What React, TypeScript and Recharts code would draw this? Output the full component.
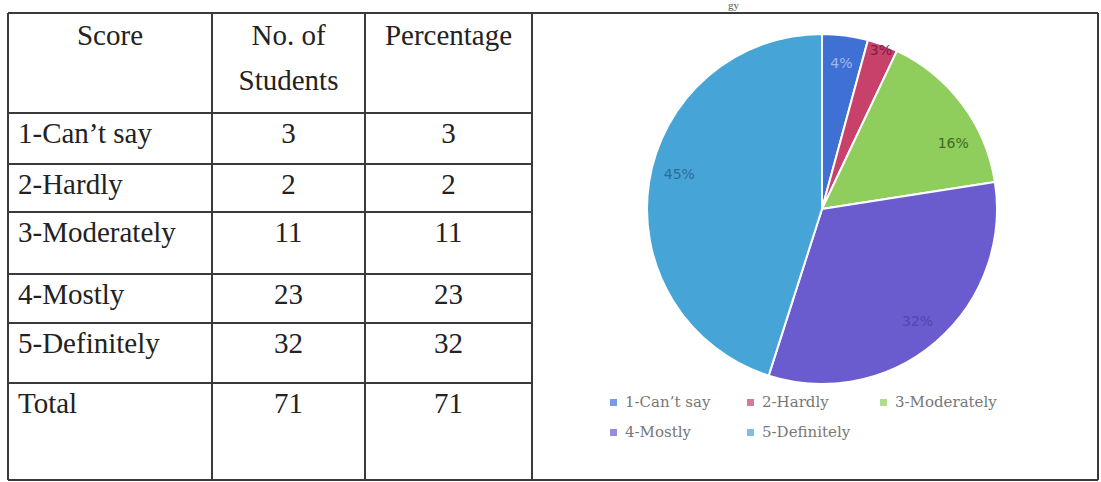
import React from 'react';
import { PieChart, Pie, Cell, Legend } from 'recharts';

const scores = ["1-Can\u2019t say", '2-Hardly', '3-Moderately', '4-Mostly', '5-Definitely'];
const students = [3, 2, 11, 23, 32];
const percentages = [3, 2, 11, 23, 32];
const totalStudents = 71;
const totalPercentage = 71;
const pieLabels = ['4%', '3%', '16%', '32%', '45%'];

const COLORS = ['#3f70d4', '#c8416b', '#8fcd5c', '#6a5bcf', '#46a4d6'];
const LABEL_COLORS = ['#9fb8ec', '#7a2040', '#3f6a1e', '#5346b0', '#2b6c96'];

// table grid lines (scan positions)
const ROW_Y = [13, 113, 164, 212, 274, 323, 383, 480];
const COL_X = [8, 212, 365, 532, 1098];

const serif = '"Liberation Serif", "Times New Roman", serif';
const lineColor = '#3a3a3a';

const pieData = scores.map((s, i) => ({ name: s, value: students[i], label: pieLabels[i] }));

const RADIAN = Math.PI / 180;
const renderLabel = (props: any) => {
  const { cx, cy, midAngle, outerRadius, index } = props;
  const r = index === 1 ? outerRadius * 0.97 : outerRadius * 0.84;
  // small nudge so labels sit where the original "best fit" put them
  const a = midAngle + (index === 4 ? -5 : index === 2 ? -10 : 0);
  const x = cx + r * Math.cos(-a * RADIAN);
  const y = cy + r * Math.sin(-a * RADIAN);
  return (
    <text x={x} y={y} fill={LABEL_COLORS[index]} textAnchor="middle" dominantBaseline="central"
      style={{ fontFamily: '"DejaVu Sans", sans-serif', fontSize: 14 }}>
      {pieData[index].label}
    </text>
  );
};

const renderLegend = () => (
  <div style={{ display: 'flex', flexWrap: 'wrap', width: 430, rowGap: 8 }}>
    {scores.map((s, i) => (
      <div key={s} style={{ width: i % 3 === 0 ? 137 : 133, display: 'flex', alignItems: 'center', height: 22 }}>
        <span style={{ display: 'inline-block', width: 7, height: 7, background: COLORS[i], opacity: 0.7, marginRight: 8 }} />
        <span style={{ fontFamily: '"DejaVu Serif", serif', fontSize: 15, color: '#777' }}>{s}</span>
      </div>
    ))}
  </div>
);

function Cell2({ x0, x1, y0, children, align, lh }: any) {
  return (
    <div style={{
      position: 'absolute', left: x0, width: x1 - x0, top: y0,
      textAlign: align, fontFamily: serif, fontSize: 29, color: '#222',
      lineHeight: lh + 'px', paddingLeft: align === 'left' ? 10 : 0, boxSizing: 'border-box',
    }}>{children}</div>
  );
}

export default function App() {
  const rows = scores.map((s, i) => [s, String(students[i]), String(percentages[i])]);
  rows.push(['Total', String(totalStudents), String(totalPercentage)]);
  return (
    <div style={{ position: 'absolute', left: 0, top: 0, width: 1101, height: 482, overflow: 'hidden', background: '#fff' }}>
      <div style={{ position: 'absolute', left: 728, top: 0, fontFamily: serif, fontSize: 11, lineHeight: '11px', color: '#555' }}>gy</div>

      {ROW_Y.map((y, i) => (
        <div key={'h' + i} style={{
          position: 'absolute', top: y - 1, height: 2, background: lineColor,
          left: COL_X[0], width: (i === 0 || i === ROW_Y.length - 1 ? COL_X[4] : COL_X[3]) - COL_X[0],
        }} />
      ))}
      {COL_X.map((x, i) => (
        <div key={'v' + i} style={{
          position: 'absolute', left: x - 1, width: 2, background: lineColor,
          top: ROW_Y[0], height: ROW_Y[ROW_Y.length - 1] - ROW_Y[0],
        }} />
      ))}

      <Cell2 x0={COL_X[0]} x1={COL_X[1]} y0={ROW_Y[0]} align="center" lh={45}>Score</Cell2>
      <Cell2 x0={COL_X[1]} x1={COL_X[2]} y0={ROW_Y[0]} align="center" lh={45}>No. of<br />Students</Cell2>
      <Cell2 x0={COL_X[2]} x1={COL_X[3]} y0={ROW_Y[0]} align="center" lh={45}>Percentage</Cell2>

      {rows.map((r, i) => (
        <React.Fragment key={r[0]}>
          <Cell2 x0={COL_X[0]} x1={COL_X[1]} y0={ROW_Y[i + 1] + 2} align="left" lh={36}>{r[0]}</Cell2>
          <Cell2 x0={COL_X[1]} x1={COL_X[2]} y0={ROW_Y[i + 1] + 2} align="center" lh={36}>{r[1]}</Cell2>
          <Cell2 x0={COL_X[2]} x1={COL_X[3]} y0={ROW_Y[i + 1] + 2} align="center" lh={36}>{r[2]}</Cell2>
        </React.Fragment>
      ))}

      <div style={{ position: 'absolute', left: COL_X[3], top: ROW_Y[0] }}>
        <PieChart width={566} height={467}>
          <Pie
            data={pieData}
            dataKey="value"
            nameKey="name"
            cx={285}
            cy={191}
            outerRadius={175}
            startAngle={90}
            endAngle={-270}
            stroke="#ffffff"
            strokeWidth={2}
            labelLine={false}
            label={renderLabel}
            isAnimationActive={false}
          >
            {pieData.map((entry, index) => (
              <Cell key={`cell-${index}`} fill={COLORS[index]} />
            ))}
          </Pie>
          <Legend content={renderLegend} wrapperStyle={{ left: 78, top: 378, width: 440 }} />
        </PieChart>
      </div>
    </div>
  );
}
